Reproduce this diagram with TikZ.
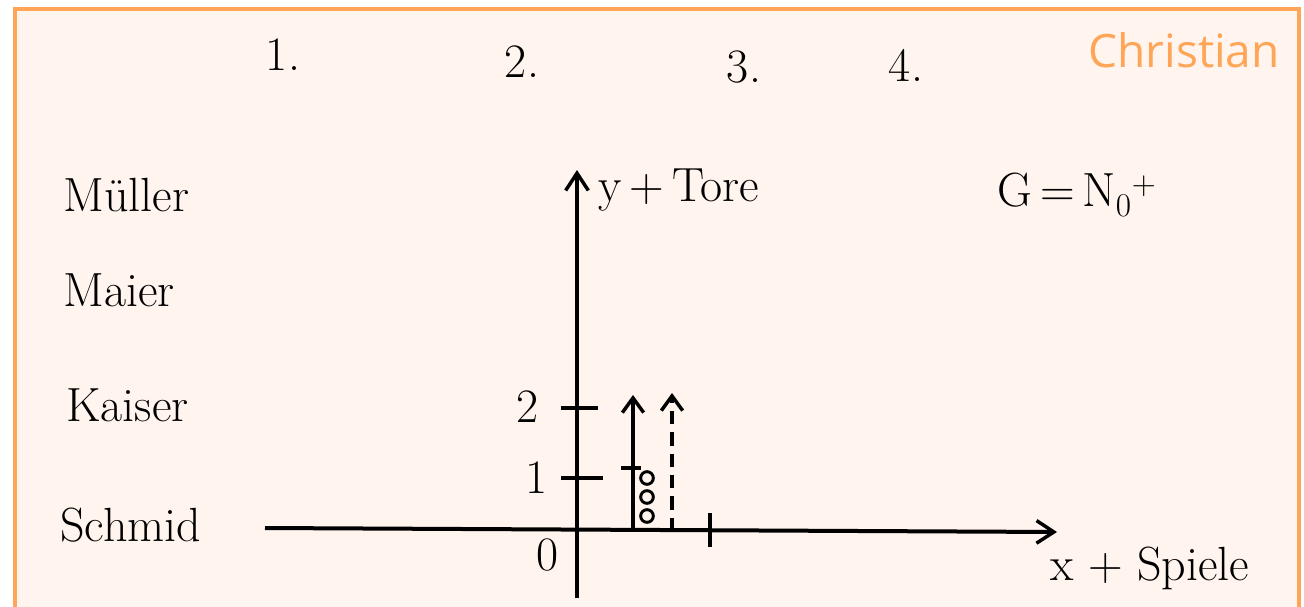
\documentclass[tikz,border=0pt]{standalone}
\usepackage{fontspec}
\newfontfamily\namefont{Open Sans}
\usetikzlibrary{arrows.meta}
\definecolor{bgpeach}{HTML}{FFF4EE}
\definecolor{frameorange}{HTML}{FFA558}
\tikzset{
  frame/.style={draw=frameorange, line width=2.6pt, fill=bgpeach},
  hand/.style={font=\fontsize{36}{40}\selectfont, text=black, inner sep=0pt},
  small/.style={font=\fontsize{36}{40}\selectfont, text=black, inner sep=0pt},
  axis/.style={line width=3pt, -{Straight Barb[length=13pt,width=17pt,line width=2.6pt]}},
  vec/.style={line width=2.8pt, -{Straight Barb[length=11pt,width=16pt,line width=2.6pt]}},
  dvec/.style={line width=2.8pt, dash pattern=on 10pt off 6pt, -{Straight Barb[length=11pt,width=16pt,line width=2.6pt]}},
  tick/.style={line width=2.8pt},
  dot/.style={circle, draw=black, line width=2.2pt, minimum size=9.5pt, inner sep=0pt},
}
\begin{document}
\begin{tikzpicture}[x=0.75pt,y=-0.75pt]
\useasboundingbox (0,0) rectangle (1304,607);
\fill[white] (0,0) rectangle (1304,607);
\draw[frame] (15,9) rectangle (1299,650);
% title
\node[anchor=east, inner sep=0pt, text=frameorange, font=\namefont\fontsize{34.5}{38}\selectfont] (christian) at (1280,50) {Christian};
% numbers
\node[hand] (n1) at (283,55) {1.};
\node[hand] (n2) at (522,62) {2.};
\node[hand] (n3) at (744,67) {3.};
\node[hand] (n4) at (906,65) {4.};
% names
\node[hand, anchor=west] (mueller) at (63,195) {Müller};
\node[hand, anchor=west] (maier) at (63,290) {Maier};
\node[hand, anchor=west] (kaiser) at (66,405) {Kaiser};
\node[hand, anchor=west] (schmid) at (60,525) {Schmid};
% set
\node[hand, anchor=west] (set) at (997,195) {G\,=\,N$_0{}^{+}$};
% axes
\coordinate (ybot) at (577,598);
\coordinate (ytop) at (577,170);
\coordinate (xleft) at (265,528);
\coordinate (xright) at (1057,532);
\draw[axis] (ybot) -- (ytop);
\draw[axis] (xleft) -- (xright);
\node[hand, anchor=west] (ylab) at (598,190) {y\,+\,Tore};
\node[hand, anchor=west] (xlab) at (1050,568) {x + Spiele};
% ticks
\coordinate (t2a) at (561,408); \coordinate (t2b) at (598,408);
\coordinate (t1a) at (561,478); \coordinate (t1b) at (603,478);
\coordinate (txa) at (710,513); \coordinate (txb) at (710,547);
\draw[tick] (t2a) -- (t2b);
\draw[tick] (t1a) -- (t1b);
\draw[tick] (txa) -- (txb);
\node[small] (l2) at (528,407) {2};
\node[small] (l1) at (537,478) {1};
\node[small] (l0) at (548,555) {0};
% vectors
\coordinate (v1b) at (633,531); \coordinate (v1t) at (633,395);
\coordinate (v2b) at (672,531); \coordinate (v2t) at (672,393);
\draw[vec] (v1b) -- (v1t);
\draw[dvec] (v2b) -- (v2t);
\coordinate (m1a) at (621,468); \coordinate (m1b) at (641,468);
\draw[tick] (m1a) -- (m1b);
\node[dot] (c1) at (647,478) {};
\node[dot] (c2) at (647,497) {};
\node[dot] (c3) at (647,516) {};
\end{tikzpicture}
\end{document}
